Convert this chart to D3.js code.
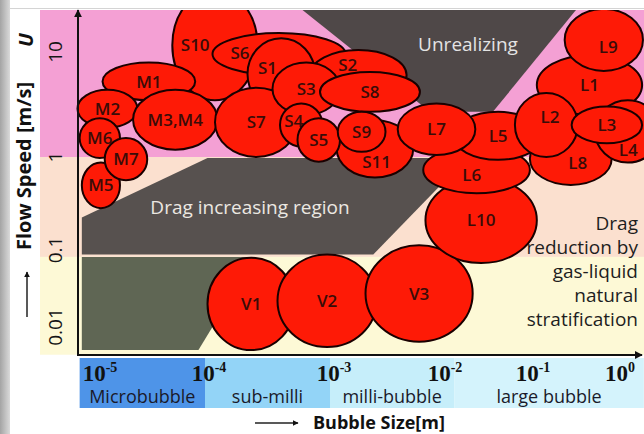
<!DOCTYPE html>
<html>
<head>
<meta charset="utf-8">
<script src="https://cdn.jsdelivr.net/npm/d3@7"></script>
<style>
  body { margin: 0; background: #fff; }
  svg { display: block; font-family: "Open Sans", sans-serif; }
</style>
</head>
<body>
<div id="chart"></div>
<script>
// All values are log10: bubble size in m, flow speed in m/s
const sizeTicks = [-5, -4, -3, -2, -1, 0];
const speedTicks = [-2, -1, 0, 1];
const speedTickLabels = ["0.01", "0.1", "1", "10"];

// bubble size classes along the x axis
const sizeClasses = ["Microbubble", "sub-milli", "milli-bubble", "large bubble"];
const sizeClassEdges = [-5.15, -4, -3, -1.85, 0.32];

// flow speed zones (pink, peach, yellow)
const speedZones = [[0, 1.4], [-1.09, 0], [-2.36, -1.09]];

// shaded regions, [size, speed] vertices
const unrealizing = [[-3.22, 1.40], [-0.46, 1.40], [-1.41, 0.43], [-2.10, 0.43]];
const dragIncreasing = [[-5.13, -0.65], [-3.98, -0.01], [-1.95, -0.01], [-1.95, -0.25], [-2.61, -1.06], [-5.13, -1.06]];
const lowSpeedRegion = [[-5.13, -1.09], [-3.60, -1.09], [-4.06, -2.30], [-5.13, -2.30]];

// experiments: ranges of bubble size and flow speed
const microBubbles = [
  { name: "M1",    size: [-4.94, -4.09], speed: [0.54, 0.90] },
  { name: "M2",    size: [-5.17, -4.62], speed: [0.28, 0.64] },
  { name: "M3,M4", size: [-4.66, -3.90], speed: [0.07, 0.64] },
  { name: "M6",    size: [-5.15, -4.78], speed: [-0.01, 0.37] },
  { name: "M5",    size: [-5.13, -4.78], speed: [-0.55, -0.06] },
  { name: "M7",    size: [-4.92, -4.53], speed: [-0.25, 0.18] }
];
const smallBubbles = [
  { name: "S10", size: [-4.30, -3.58], speed: [0.54, 1.59], label: [-4.09, 1.07] },
  { name: "S6",  size: [-3.94, -2.86], speed: [0.78, 1.18], label: [-3.72, 0.99] },
  { name: "S1",  size: [-3.66, -3.12], speed: [0.45, 1.13], label: [-3.50, 0.85] },
  { name: "S7",  size: [-3.92, -3.26], speed: [0.00, 0.66] },
  { name: "S2",  size: [-3.16, -2.31], speed: [0.54, 1.02], label: [-2.84, 0.88] },
  { name: "S3",  size: [-3.46, -2.91], speed: [0.40, 0.90] },
  { name: "S8",  size: [-3.08, -2.19], speed: [0.43, 0.81] },
  { name: "S4",  size: [-3.40, -3.06], speed: [0.10, 0.51], label: [-3.29, 0.34] },
  { name: "S11", size: [-2.94, -2.25], speed: [-0.22, 0.35], label: [-2.58, -0.05] },
  { name: "S5",  size: [-3.26, -2.91], speed: [-0.05, 0.37] },
  { name: "S9",  size: [-2.93, -2.50], speed: [0.05, 0.43] }
];
const vBubbles = [
  { name: "V1", size: [-3.98, -3.28], speed: [-2.30, -1.10] },
  { name: "V2", size: [-3.42, -2.58], speed: [-2.26, -1.06] },
  { name: "V3", size: [-2.68, -1.64], speed: [-2.19, -0.95] }
];
const largeBubbles = [
  { name: "L10", size: [-2.14, -0.91], speed: [-1.17, -0.22] },
  { name: "L6",  size: [-2.16, -0.99], speed: [-0.39, 0.10], label: [-1.65, -0.19] },
  { name: "L5",  size: [-1.86, -0.84], speed: [-0.03, 0.43] },
  { name: "L7",  size: [-2.39, -1.61], speed: [0.02, 0.51] },
  { name: "L1",  size: [-0.91, 0.30],  speed: [0.40, 0.97] },
  { name: "L9",  size: [-0.59, 0.31],  speed: [0.82, 1.41], label: [-0.09, 1.05] },
  { name: "L8",  size: [-0.99, -0.05], speed: [-0.30, 0.23], label: [-0.44, -0.06] },
  { name: "L2",  size: [-1.16, -0.44], speed: [0.00, 0.61], label: [-0.76, 0.38] },
  { name: "L4",  size: [-0.24, 0.51],  speed: [-0.06, 0.54], label: [0.14, 0.07] },
  { name: "L3",  size: [-0.51, 0.30],  speed: [0.13, 0.48] }
];

// stacking order, back to front
const layerOrder = ["S10", "M1", "M2", "M3,M4", "M6", "M5", "M7", "S6", "S1", "S7", "S2", "S3", "S8",
  "S4", "S11", "S5", "S9", "V1", "V2", "V3", "L10", "L6", "L5", "L7", "L1", "L9", "L8", "L2", "L4", "L3"];

// colours
const zoneColors = ["#f4a0d4", "#fbe0cf", "#fdf9d6"];
const classColors = ["#4e94e8", "#93d4f7", "#c6eefa", "#d4f3fc"];

const W = 644, H = 434;
const axisX = 78, axisY = 355, stripTop = 358, stripBottom = 408;

// hand-drawn axes: each decade has its own length
const x = d3.scaleLinear().domain(sizeTicks).range([96, 205, 330, 441, 529, 616]);
const y = d3.scaleLinear().domain(speedTicks).range([327, 250, 157, 52]);

const svg = d3.select("#chart").append("svg")
    .attr("width", W)
    .attr("height", H);

const defs = svg.append("defs");
const grad = defs.append("linearGradient").attr("id", "edge").attr("x1", 0).attr("x2", 1);
grad.append("stop").attr("offset", 0).attr("stop-color", "#a4a4a4");
grad.append("stop").attr("offset", 1).attr("stop-color", "#dadada");

defs.append("clipPath").attr("id", "plotClip")
  .append("rect").attr("x", 0).attr("y", 10).attr("width", W).attr("height", H - 10);

defs.append("marker")
    .attr("id", "arrow")
    .attr("viewBox", "0 0 10 10")
    .attr("refX", 9).attr("refY", 5)
    .attr("markerWidth", 4).attr("markerHeight", 4)
    .attr("orient", "auto")
  .append("path")
    .attr("d", "M0,0L10,5L0,10Z")
    .attr("fill", "#111");

// slide frame
svg.append("rect").attr("width", 10).attr("height", H).attr("fill", "url(#edge)");
svg.append("line")
    .attr("x1", 10).attr("x2", W).attr("y1", 8.5).attr("y2", 8.5)
    .attr("stroke", "#d4d4d4");

const plot = svg.append("g").attr("clip-path", "url(#plotClip)");

// speed zones
plot.selectAll(".zone")
  .data(speedZones)
  .enter().append("rect")
    .attr("class", "zone")
    .attr("x", 40)
    .attr("width", W - 40)
    .attr("y", d => y(d[1]))
    .attr("height", d => y(d[0]) - y(d[1]))
    .attr("fill", (d, i) => zoneColors[i]);

// shaded regions
const toPoints = pts => pts.map(p => [x(p[0]), y(p[1])].join(",")).join(" ");
plot.append("polygon").attr("points", toPoints(unrealizing)).attr("fill", "#4f4848");
plot.append("polygon").attr("points", toPoints(dragIncreasing)).attr("fill", "#57514f");
plot.append("polygon").attr("points", toPoints(lowSpeedRegion)).attr("fill", "#5f6654");

plot.append("text")
    .attr("x", 468).attr("y", 51)
    .attr("text-anchor", "middle")
    .style("font-size", "19px")
    .attr("fill", "#e4e4e4")
    .text("Unrealizing");

plot.append("text")
    .attr("x", 250).attr("y", 214)
    .attr("text-anchor", "middle")
    .style("font-size", "19px")
    .attr("fill", "#ece8e2")
    .text("Drag increasing region");

// bubbles
const allBubbles = [...microBubbles, ...smallBubbles, ...vBubbles, ...largeBubbles];
const byName = new Map(allBubbles.map(d => [d.name, d]));
const ordered = layerOrder.map(n => byName.get(n));

const bubble = plot.selectAll(".bubble")
  .data(ordered)
  .enter().append("g")
    .attr("class", "bubble");

bubble.append("ellipse")
    .attr("cx", d => (x(d.size[0]) + x(d.size[1])) / 2)
    .attr("cy", d => (y(d.speed[0]) + y(d.speed[1])) / 2)
    .attr("rx", d => (x(d.size[1]) - x(d.size[0])) / 2)
    .attr("ry", d => (y(d.speed[0]) - y(d.speed[1])) / 2)
    .attr("fill", "#fe1a06")
    .attr("stroke", "#1a0000")
    .attr("stroke-width", 2);

bubble.append("text")
    .attr("x", d => d.label ? x(d.label[0]) : (x(d.size[0]) + x(d.size[1])) / 2)
    .attr("y", d => d.label ? y(d.label[1]) : (y(d.speed[0]) + y(d.speed[1])) / 2)
    .attr("dy", "0.36em")
    .attr("text-anchor", "middle")
    .style("font-size", "17px")
    .style("font-weight", 600)
    .attr("fill", "#3a0c08")
    .text(d => d.name);

// right-hand note
const note = ["Drag", "reduction by", "gas-liquid", "natural", "stratification"];
svg.append("g").selectAll("text")
  .data(note)
  .enter().append("text")
    .attr("x", 638)
    .attr("y", (d, i) => 230 + i * 24)
    .attr("text-anchor", "end")
    .style("font-size", "19px")
    .attr("fill", "#1e1e1e")
    .text(d => d);

// size class strip
svg.selectAll(".sizeClass")
  .data(sizeClasses)
  .enter().append("rect")
    .attr("class", "sizeClass")
    .attr("x", (d, i) => x(sizeClassEdges[i]))
    .attr("width", (d, i) => x(sizeClassEdges[i + 1]) - x(sizeClassEdges[i]))
    .attr("y", stripTop)
    .attr("height", stripBottom - stripTop)
    .attr("fill", (d, i) => classColors[i]);

svg.selectAll(".sizeClassLabel")
  .data(sizeClasses)
  .enter().append("text")
    .attr("class", "sizeClassLabel")
    .attr("x", (d, i) => (x(sizeClassEdges[i]) + x(sizeClassEdges[i + 1])) / 2)
    .attr("y", 403)
    .attr("text-anchor", "middle")
    .style("font-size", "18px")
    .attr("fill", "#1a1a2a")
    .text(d => d);

// x tick labels 10^n
const xTick = svg.selectAll(".xTick")
  .data(sizeTicks)
  .enter().append("text")
    .attr("class", "xTick")
    .attr("x", d => x(d) + 4)
    .attr("y", 381)
    .attr("text-anchor", "middle")
    .style("font-family", "'Liberation Serif', serif")
    .style("font-weight", "bold")
    .style("font-size", "23px")
    .attr("fill", "#111");
xTick.append("tspan").text("10");
xTick.append("tspan")
    .attr("dy", -9)
    .style("font-size", "14px")
    .text(d => d === 0 ? "0" : "-" + Math.abs(d));

// y tick labels
svg.selectAll(".yTick")
  .data(speedTicks)
  .enter().append("text")
    .attr("class", "yTick")
    .attr("transform", d => "translate(62," + y(d) + ") rotate(-90)")
    .attr("text-anchor", "middle")
    .style("font-size", "19px")
    .attr("fill", "#151515")
    .text((d, i) => speedTickLabels[i]);

// axes with arrow heads
svg.append("line")
    .attr("x1", axisX).attr("y1", axisY)
    .attr("x2", axisX).attr("y2", 10)
    .attr("stroke", "#111").attr("stroke-width", 2)
    .attr("marker-end", "url(#arrow)");
svg.append("line")
    .attr("x1", axisX - 1).attr("y1", axisY)
    .attr("x2", 642).attr("y2", axisY)
    .attr("stroke", "#111").attr("stroke-width", 2)
    .attr("marker-end", "url(#arrow)");

// axis titles
svg.append("text")
    .attr("transform", "translate(33,40) rotate(-90)")
    .attr("text-anchor", "middle")
    .style("font-size", "20px")
    .style("font-weight", "bold")
    .style("font-style", "italic")
    .attr("fill", "#111")
    .text("U");

svg.append("text")
    .attr("transform", "translate(31,166) rotate(-90)")
    .attr("text-anchor", "middle")
    .style("font-size", "20px")
    .style("font-weight", "bold")
    .attr("fill", "#111")
    .text("Flow Speed [m/s]");

svg.append("line")
    .attr("x1", 27).attr("y1", 317)
    .attr("x2", 27).attr("y2", 272)
    .attr("stroke", "#222").attr("stroke-width", 1.5)
    .attr("marker-end", "url(#arrow)");

svg.append("line")
    .attr("x1", 255).attr("y1", 423)
    .attr("x2", 298).attr("y2", 423)
    .attr("stroke", "#222").attr("stroke-width", 1.5)
    .attr("marker-end", "url(#arrow)");

svg.append("text")
    .attr("x", 313).attr("y", 429)
    .style("font-size", "18px")
    .style("font-weight", "bold")
    .attr("fill", "#111")
    .text("Bubble Size[m]");
</script>
</body>
</html>
